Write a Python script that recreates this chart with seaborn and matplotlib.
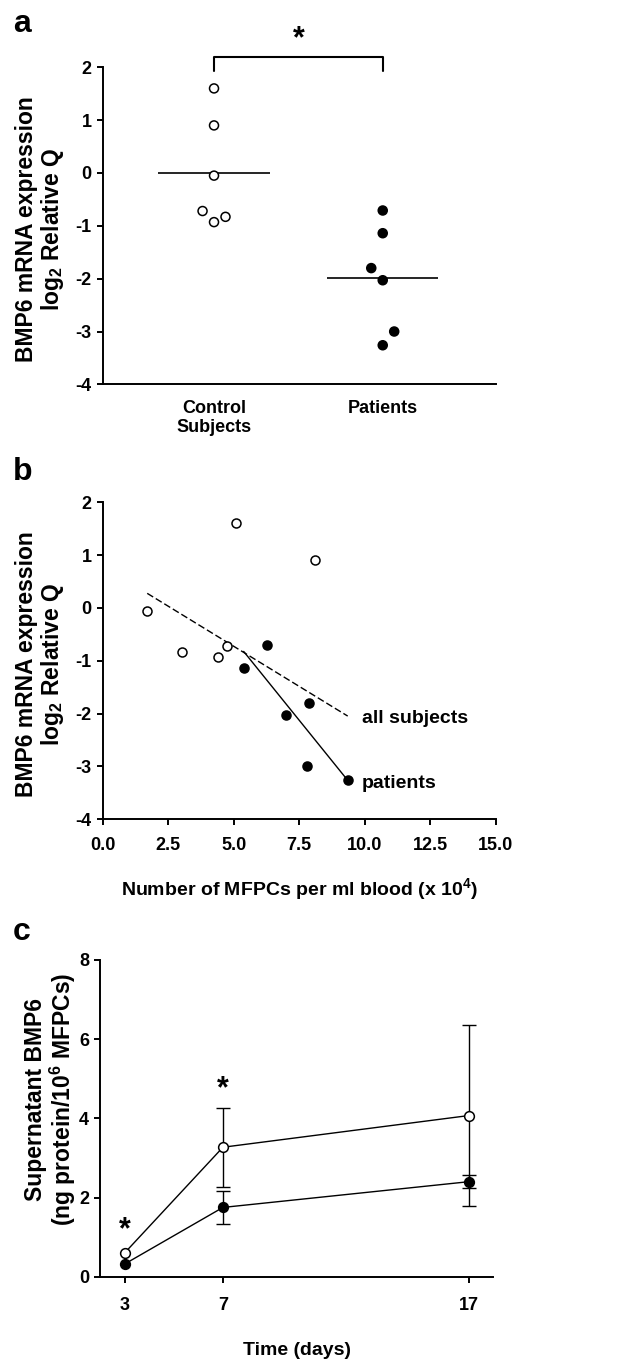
"""
BMP6 expression figure: panels a (dot plot), b (regression scatter), c (time course).
"""

import matplotlib
matplotlib.use("Agg")
import matplotlib.pyplot as plt
import seaborn as sns
import numpy as np
import pandas as pd

# ── Data ─────────────────────────────────────────────────────────────────────
groups = ["Control\nSubjects", "Patients"]

# log2 relative Q per subject
ctrl_q = [1.60, 0.90, -0.05, -0.72, -0.93, -0.83]
pat_q = [-0.71, -1.14, -1.80, -2.03, -3.00, -3.26]

# MFPCs per ml blood (x 10^4), same subject order as above
ctrl_mfpc = [5.08, 8.09, 1.70, 4.76, 4.41, 3.03]
pat_mfpc = [6.28, 5.38, 7.89, 6.98, 7.79, 9.35]

# supernatant BMP6 over time
days = [3, 7, 17]
ctrl_bmp6 = [0.60, 3.27, 4.07]
ctrl_sem = [np.nan, 1.00, 2.28]
pat_bmp6 = [0.32, 1.75, 2.40]
pat_sem = [np.nan, 0.41, 0.17]

# horizontal spreading of overlapping dots in panel a (GraphPad style)
ctrl_spread = [0, 0, 0, -1, 0, 1]
pat_spread = [0, 0, -1, 0, 1, 0]
SPREAD = 0.068

# ── Style ────────────────────────────────────────────────────────────────────
FONT = ["Liberation Sans", "DejaVu Sans"]
TICK_FS = 13
LAB_FS = 14
YLAB_FS = 16.5

sns.set_theme(style="ticks")
plt.rcParams.update({
    "font.family": FONT,
    "font.weight": "bold",
    "axes.labelweight": "bold",
    "axes.edgecolor": "black",
    "axes.linewidth": 1.4,
    "xtick.color": "black",
    "ytick.color": "black",
    "text.color": "black",
    "axes.labelcolor": "black",
    "xtick.major.width": 1.4,
    "ytick.major.width": 1.4,
    "xtick.major.size": 4.5,
    "ytick.major.size": 4.5,
    "xtick.labelsize": TICK_FS,
    "ytick.labelsize": TICK_FS,
    "axes.labelsize": LAB_FS,
    "axes.unicode_minus": False,
    "mathtext.fontset": "custom",
    "mathtext.rm": "Liberation Sans:bold",
    "mathtext.bf": "Liberation Sans:bold",
    "mathtext.default": "bf",
})

fig = plt.figure(figsize=(6.33, 13.62), dpi=100)
ax_a = fig.add_axes([0.1622, 0.7178, 0.621, 0.2328])
ax_b = fig.add_axes([0.1622, 0.3985, 0.621, 0.2327])
ax_c = fig.add_axes([0.158, 0.0626, 0.6213, 0.2326])

YLAB_Q = "BMP6 mRNA expression\nlog$_2$ Relative Q"


def _ylabel(ax, text, x, y):
    ax.set_ylabel(text, fontsize=YLAB_FS, linespacing=1.05)
    ax.yaxis.label.set_va("center")
    ax.yaxis.set_label_coords(x, y)


# ── Panel a: dot plot with mean lines ────────────────────────────────────────
df_a = pd.DataFrame({
    "group": ["Control"] * len(ctrl_q) + ["Patients"] * len(pat_q),
    "idx": [0] * len(ctrl_q) + [1] * len(pat_q),
    "q": ctrl_q + pat_q,
    "spread": ctrl_spread + pat_spread,
})
df_a["xpos"] = df_a["idx"] + df_a["spread"] * SPREAD
sns.scatterplot(data=df_a, x="xpos", y="q", hue="group",
                palette={"Control": "white", "Patients": "black"},
                edgecolor="black", linewidth=1.1, s=42, legend=False,
                zorder=3, ax=ax_a)
means = df_a.groupby("idx")["q"].mean()
ax_a.hlines(means.values, means.index - 0.33, means.index + 0.33,
            color="black", lw=1.2, zorder=2)

# significance bracket
ax_a.plot([0, 0, 1, 1], [1.93, 2.2, 2.2, 1.93], color="black", lw=1.5, clip_on=False)
ax_a.text(0.5, 2.38, "*", ha="center", va="baseline", fontsize=22)

ax_a.set_xlim(-0.66, 1.67)
ax_a.set_ylim(-4, 2)
ax_a.set_xticks([0, 1], groups)
ax_a.set_yticks(range(-4, 3))
ax_a.tick_params(axis="x", length=0, pad=11)
ax_a.set_xlabel("")
_ylabel(ax_a, YLAB_Q, -0.158, 0.49)
sns.despine(ax=ax_a)

# ── Panel b: MFPC count vs expression ────────────────────────────────────────
all_x = ctrl_mfpc + pat_mfpc
all_y = ctrl_q + pat_q
sns.regplot(x=all_x, y=all_y, scatter=False, ci=None, truncate=True, ax=ax_b,
            line_kws=dict(color="black", lw=1.0, ls=(0, (5, 2.2))))
sns.regplot(x=pat_mfpc, y=pat_q, scatter=False, ci=None, truncate=True, ax=ax_b,
            line_kws=dict(color="black", lw=1.0))
sns.scatterplot(x=ctrl_mfpc, y=ctrl_q, color="white", edgecolor="black",
                linewidth=1.1, s=42, zorder=3, ax=ax_b)
sns.scatterplot(x=pat_mfpc, y=pat_q, color="black", edgecolor="black",
                linewidth=1.1, s=42, zorder=3, ax=ax_b)
ax_b.text(9.9, -2.1, "all subjects", va="center", ha="left", fontsize=LAB_FS)
ax_b.text(9.9, -3.33, "patients", va="center", ha="left", fontsize=LAB_FS)

ax_b.set_xlim(0, 15)
ax_b.set_ylim(-4, 2)
ax_b.set_xticks(np.arange(0, 15.1, 2.5))
ax_b.set_xticklabels([f"{v:.1f}" for v in np.arange(0, 15.1, 2.5)])
ax_b.set_yticks(range(-4, 3))
ax_b.tick_params(axis="x", pad=8)
ax_b.set_xlabel("Number of MFPCs per ml blood (x 10$^4$)", labelpad=16)
_ylabel(ax_b, YLAB_Q, -0.158, 0.49)
sns.despine(ax=ax_b)

# ── Panel c: supernatant BMP6 time course ────────────────────────────────────
ax_c.errorbar(days, ctrl_bmp6, yerr=ctrl_sem, fmt="none", ecolor="black",
              elinewidth=1.0, capsize=5, capthick=1.0, zorder=2)
ax_c.errorbar(days, pat_bmp6, yerr=pat_sem, fmt="none", ecolor="black",
              elinewidth=1.0, capsize=5, capthick=1.0, zorder=2)
sns.lineplot(x=days, y=ctrl_bmp6, color="black", lw=1.0, marker="o",
             markersize=7, markerfacecolor="white", markeredgecolor="black",
             markeredgewidth=1.1, zorder=3, ax=ax_c)
sns.lineplot(x=days, y=pat_bmp6, color="black", lw=1.0, marker="o",
             markersize=7, markerfacecolor="black", markeredgecolor="black",
             markeredgewidth=1.1, zorder=3, ax=ax_c)
for d, yb in zip([3, 7], [0.98, 4.52]):
    ax_c.text(d, yb, "*", ha="center", va="baseline", fontsize=22)

ax_c.set_xlim(2, 18)
ax_c.set_ylim(0, 8)
ax_c.set_xticks(days)
ax_c.set_yticks(range(0, 9, 2))
ax_c.tick_params(axis="x", pad=10)
ax_c.set_xlabel("Time (days)", labelpad=20)
_ylabel(ax_c, "Supernatant BMP6\n(ng protein/10$^6$ MFPCs)", -0.124, 0.56)
sns.despine(ax=ax_c)

# ── Panel letters ────────────────────────────────────────────────────────────
for letter, ybase in [("a", 32), ("b", 480), ("c", 940)]:
    fig.text(13 / 633, 1 - ybase / 1362, letter, fontsize=23, fontweight="bold",
             va="baseline", ha="left")

fig.savefig("out.png", dpi=100, facecolor="white")
